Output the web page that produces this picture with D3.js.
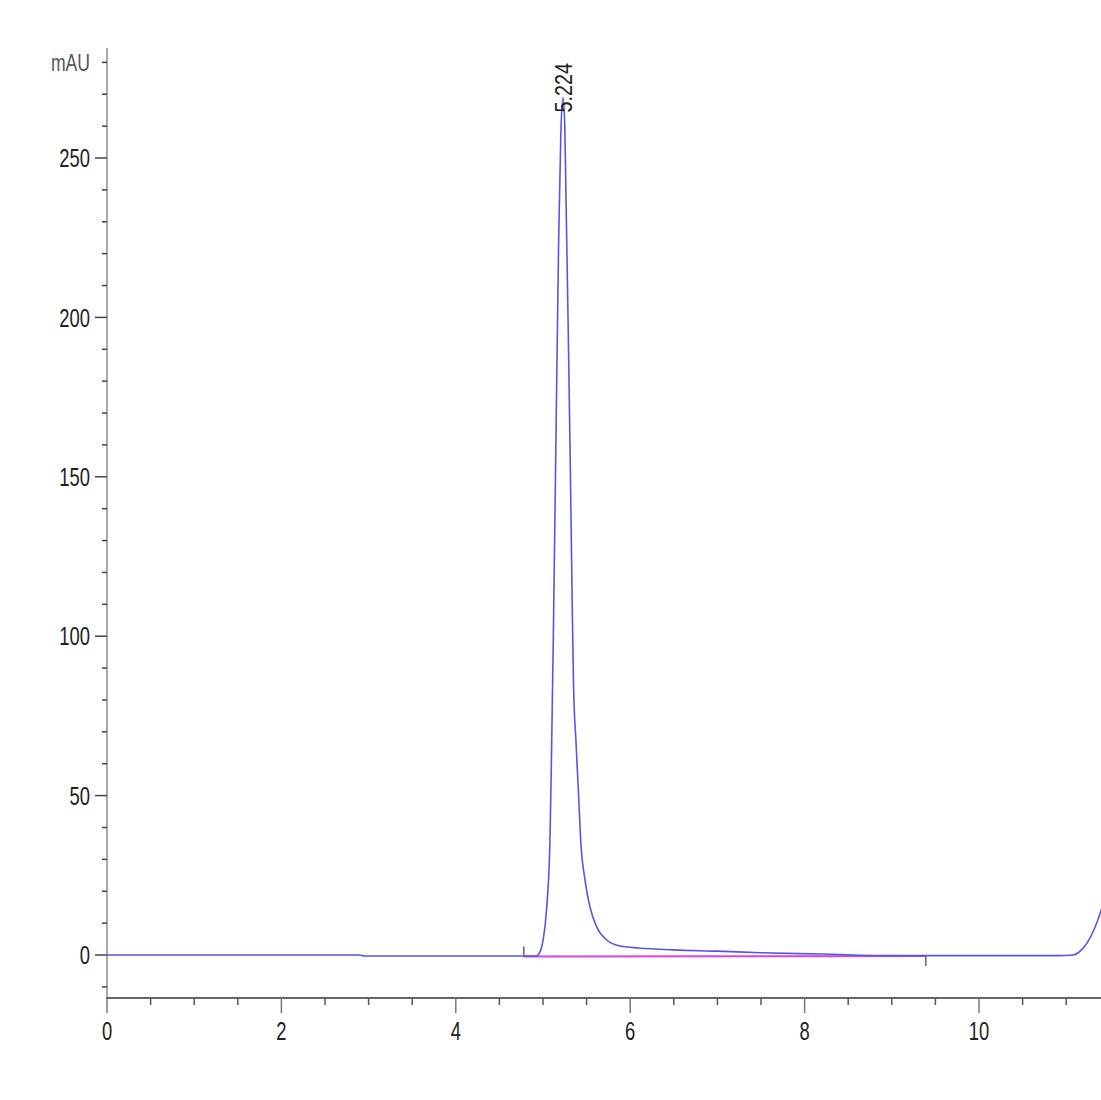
<!DOCTYPE html>
<html>
<head>
<meta charset="utf-8">
<script src="https://cdn.jsdelivr.net/npm/d3@7"></script>
<style>
  body { margin: 0; background: #fff; }
  text { font-family: "Liberation Sans", Arial, sans-serif; }
</style>
</head>
<body>
<script>
// chromatogram trace (min, mAU)
var times  = [0, 2.9, 2.95, 4.8, 4.92, 4.966, 5.0, 5.04, 5.08, 5.10, 5.118, 5.15, 5.18, 5.205, 5.229,
              5.25, 5.264, 5.29, 5.315, 5.335, 5.35, 5.378, 5.405, 5.432, 5.482, 5.539, 5.616, 5.731, 5.883,
              6.1, 6.5, 7.0, 7.5, 8.2, 9.0, 10.0, 10.9, 11.08, 11.16, 11.24, 11.32, 11.4, 11.5];
var values = [0, 0, -0.3, -0.3, -0.3, 1, 4.5, 14, 36, 67, 99, 165, 225, 258, 269,
              260, 237, 195, 150, 110, 85, 67, 52, 36, 23.5, 15, 8.8, 4.7, 2.8,
              2.2, 1.6, 1.2, 0.7, 0.3, -0.2, -0.2, -0.2, 0, 1.2, 3.8, 8, 14, 24];

// integration baseline
var baseTimes  = [4.78, 9.39];
var baseValues = [-0.5, -0.3];

var peakTimes  = [5.224];
var peakLabels = ["5.224"];
var peakHeights = [269];

var yMajor = [0, 50, 100, 150, 200, 250];
var xMajor = [0, 2, 4, 6, 8, 10];

var width = 1101, height = 1100;

var x = d3.scaleLinear().domain([0, 10]).range([107, 979]);
var y = d3.scaleLinear().domain([0, 250]).range([955, 158]);

var svg = d3.select("body").append("svg")
    .attr("width", width)
    .attr("height", height);

var axisY = 998;
// condensed look of the original lettering
var squeeze = " scale(0.8,1.1)";

// y axis
svg.append("line")
    .attr("x1", 107).attr("x2", 107)
    .attr("y1", 48).attr("y2", axisY)
    .attr("stroke", "#aaa").attr("stroke-width", 2);

var yMinor = d3.range(-10, 290, 10).filter(function(v) { return v % 50 != 0; });
svg.selectAll(".yminor").data(yMinor).enter().append("line")
    .attr("x1", 102).attr("x2", 107)
    .attr("y1", function(d) { return y(d); })
    .attr("y2", function(d) { return y(d); })
    .attr("stroke", "#444").attr("stroke-width", 1.5);

svg.selectAll(".ymajor").data(yMajor).enter().append("line")
    .attr("x1", 95).attr("x2", 107)
    .attr("y1", function(d) { return y(d); })
    .attr("y2", function(d) { return y(d); })
    .attr("stroke", "#444").attr("stroke-width", 1.5);

svg.selectAll(".ylabel").data(yMajor).enter().append("text")
    .attr("transform", function(d) { return "translate(90," + y(d) + ")" + squeeze; })
    .attr("dy", "0.36em")
    .attr("text-anchor", "end")
    .attr("font-size", 23)
    .attr("fill", "#222")
    .text(function(d) { return d; });

svg.append("text")
    .attr("transform", "translate(90," + y(280) + ")" + squeeze)
    .attr("dy", "0.36em")
    .attr("text-anchor", "end")
    .attr("font-size", 22)
    .attr("fill", "#555")
    .text("mAU");

// x axis
svg.append("line")
    .attr("x1", 106).attr("x2", width)
    .attr("y1", axisY).attr("y2", axisY)
    .attr("stroke", "#666").attr("stroke-width", 2);

var xMinor = d3.range(0.5, 11.5, 0.5).filter(function(v) { return v % 2 != 0; });
svg.selectAll(".xminor").data(xMinor).enter().append("line")
    .attr("x1", function(d) { return x(d); })
    .attr("x2", function(d) { return x(d); })
    .attr("y1", axisY).attr("y2", axisY + 7)
    .attr("stroke", "#555").attr("stroke-width", 1.5);

svg.selectAll(".xmajor").data(xMajor).enter().append("line")
    .attr("x1", function(d) { return x(d); })
    .attr("x2", function(d) { return x(d); })
    .attr("y1", axisY).attr("y2", axisY + 15)
    .attr("stroke", "#777").attr("stroke-width", 1.5);

svg.selectAll(".xlabel").data(xMajor).enter().append("text")
    .attr("transform", function(d) { return "translate(" + x(d) + ",1040)" + squeeze; })
    .attr("text-anchor", "middle")
    .attr("font-size", 23)
    .attr("fill", "#222")
    .text(function(d) { return d; });

// clip to plotting area
svg.append("clipPath").attr("id", "plot")
  .append("rect").attr("x", 107).attr("y", 40).attr("width", width - 107).attr("height", axisY - 40);

var plot = svg.append("g").attr("clip-path", "url(#plot)");

// integration baseline (magenta)
var baseData = baseTimes.map(function(t, i) { return [t, baseValues[i]]; });
plot.append("path")
    .datum(baseData)
    .attr("fill", "none")
    .attr("stroke", "#e040e0")
    .attr("stroke-width", 2)
    .attr("d", d3.line().x(function(d) { return x(d[0]); }).y(function(d) { return y(d[1]); }));

// trace
var trace = times.map(function(t, i) { return [t, values[i]]; });
plot.append("path")
    .datum(trace)
    .attr("fill", "none")
    .attr("stroke", "#5656e6")
    .attr("stroke-width", 1.6)
    .attr("d", d3.line()
        .curve(d3.curveMonotoneX)
        .x(function(d) { return x(d[0]); })
        .y(function(d) { return y(d[1]); }));

// peak start / end marks
plot.append("line")
    .attr("x1", x(baseTimes[0])).attr("x2", x(baseTimes[0]))
    .attr("y1", y(baseValues[0]) - 10).attr("y2", y(baseValues[0]))
    .attr("stroke", "#666").attr("stroke-width", 1.5);
plot.append("line")
    .attr("x1", x(baseTimes[1])).attr("x2", x(baseTimes[1]))
    .attr("y1", y(baseValues[1])).attr("y2", y(baseValues[1]) + 10)
    .attr("stroke", "#666").attr("stroke-width", 1.5);

// peak retention time labels
svg.selectAll(".plabel").data(peakTimes).enter().append("text")
    .attr("transform", function(d, i) {
        return "translate(" + (x(d) + 9) + "," + (y(peakHeights[i]) + 15) + ") rotate(-90) scale(0.9,1.05)";
    })
    .attr("font-size", 22)
    .attr("fill", "#222")
    .text(function(d, i) { return peakLabels[i]; });
</script>
</body>
</html>
